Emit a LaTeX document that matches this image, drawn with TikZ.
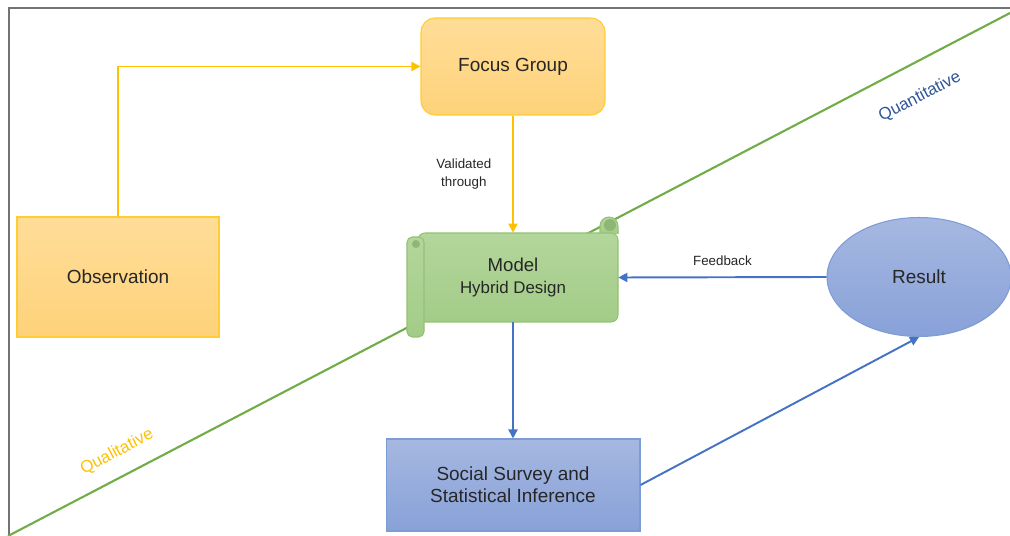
\documentclass[tikz,border=0pt]{standalone}
\usepackage{fontspec}
\setmainfont{Liberation Sans}
\usetikzlibrary{arrows.meta}
\usetikzlibrary{shapes.geometric}
\tikzset{>={Triangle[length=1.8mm,width=1.8mm]}}
\definecolor{orangeline}{HTML}{FFC000}
\definecolor{orangetop}{HTML}{FFDD98}
\definecolor{orangebot}{HTML}{FED27A}
\definecolor{greenline}{HTML}{70AD47}
\definecolor{greentop}{HTML}{B3D69B}
\definecolor{greenbot}{HTML}{A3CC88}
\definecolor{greendark}{HTML}{8FB577}
\definecolor{blueline}{HTML}{4472C4}
\definecolor{bluetop}{HTML}{A6B8E1}
\definecolor{bluebot}{HTML}{88A1D8}
\definecolor{bluetext}{HTML}{2F5597}

\begin{document}
\begin{tikzpicture}[x=0.02cm,y=-0.02cm,
  orangebox/.style={draw=orangeline!80, top color=orangetop, bottom color=orangebot, line width=0.6pt, text=black!85, font=\fontsize{10.8}{13}\selectfont},
  bluebox/.style={draw=blueline!70, top color=bluetop, bottom color=bluebot, line width=0.6pt, text=black!85, font=\fontsize{10.8}{12.5}\selectfont, align=center},
  scrollpart/.style={draw=greenline!75, top color=greentop, bottom color=greenbot, line width=0.6pt},
  orangearrow/.style={->, draw=orangeline, line width=1.1pt},
  bluearrow/.style={->, draw=blueline, line width=1.1pt},
  smalltext/.style={font=\fontsize{7.6}{10}\selectfont, text=black!85}]
\useasboundingbox (0,0) rectangle (1010,536);
\draw[black!55, line width=1.2pt] (9,536) -- (9,8) -- (1010,8);
\draw[greenline, line width=1.2pt] (8,536) -- (1010,13);
\node[rotate=27.6, text=orangeline, font=\fontsize{9.6}{11}\selectfont] (qual) at (117,452) {Qualitative};
\node[rotate=27.6, text=bluetext, font=\fontsize{9.6}{11}\selectfont] (quant) at (920,97) {Quantitative};

\draw[scrollpart] (600,234) -- (600,226) arc[start angle=180, end angle=360, radius=9] -- (618,234);
\draw[scrollpart, rounded corners=4pt] (418,233) rectangle (618,322);
\fill[greendark] (610,225) circle[radius=6];
\draw[scrollpart, rounded corners=3pt] (407,237) rectangle (424,337);
\fill[greendark] (416,244) circle[radius=4];

\node[orangebox, rounded corners=8pt, minimum width=3.68cm, minimum height=1.94cm] (focus) at (513,66.5) {Focus Group};
\node[orangebox, minimum width=4.04cm, minimum height=2.4cm] (obs) at (118,277) {Observation};
\node[align=center, text=black!85, minimum width=4.2cm, minimum height=1.78cm, inner sep=0pt] (model) at (513,277.5) {\fontsize{10.6}{12.5}\selectfont Model\\\fontsize{9.6}{12.5}\selectfont Hybrid Design};
\node[bluebox, ellipse, minimum width=3.68cm, minimum height=2.38cm, inner sep=0pt] (result) at (919,277) {Result};
\node[bluebox, minimum width=5.08cm, minimum height=1.84cm] (survey) at (513,485) {Social Survey and\\Statistical Inference};

\draw[orangearrow] (obs.north) |- (focus.west);
\draw[orangearrow] (focus.south) -- node[smalltext, left=0.3cm, align=center] {Validated\\through} (model.north);
\draw[bluearrow] (result.west) -- node[smalltext, above=0.1cm] {Feedback} (model.east);
\draw[bluearrow] (model.south) -- (survey.north);
\draw[bluearrow] (survey.east) -- (result.south);
\end{tikzpicture}
\end{document}
